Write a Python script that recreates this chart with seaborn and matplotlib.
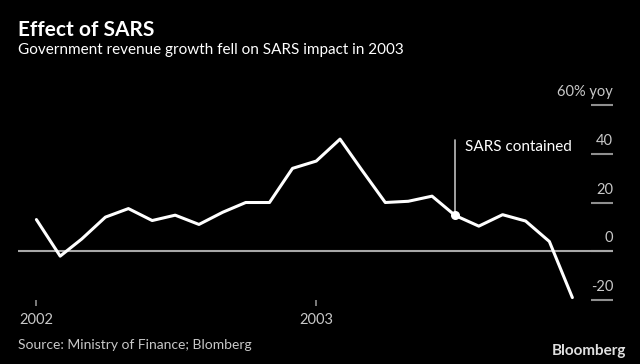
import pandas as pd
import matplotlib
matplotlib.use('Agg')
import matplotlib.pyplot as plt
import matplotlib.transforms as mtransforms
import seaborn as sns

# Monthly government revenue growth, % yoy
months = pd.date_range('2002-01-01', periods=24, freq='MS')
revenue_growth = [13, -2, 5, 14, 17.5, 12.6, 14.8, 11, 16, 20, 20, 34,
                  37, 46, 33.5, 20, 20.5, 22.6, 14.7, 10.3, 15, 12.4, 4, -19]

y_ticks = [-20, 0, 20, 40, 60]
y_tick_labels = ['-20', '0', '20', '40', '60% yoy']
x_ticks = [pd.Timestamp('2002-01-01'), pd.Timestamp('2003-01-01')]
x_tick_labels = ['2002', '2003']
event_date = pd.Timestamp('2003-07-01')
event_label = 'SARS contained'

sns.set_style('dark')
plt.rcParams['font.family'] = ['Lato', 'DejaVu Sans']

bg = 'black'
grey_text = '#c8c8c8'
grey_line = '#8f8f8f'

fig = plt.figure(figsize=(6.4, 3.64), dpi=100, facecolor=bg)
ax = fig.add_axes([18 / 640, 1 - 300 / 364, 595 / 640, 195 / 364])
ax.set_facecolor(bg)

df = pd.DataFrame({'month': months, 'growth': revenue_growth})
ax.axhline(0, color='#a8a8a8', lw=1.5, zorder=1)
sns.lineplot(data=df, x='month', y='growth', color='white', lw=2.2,
             ax=ax, zorder=3, solid_joinstyle='round', solid_capstyle='round')

# SARS contained marker
event_val = df.loc[df['month'] == event_date, 'growth'].iloc[0]
ax.plot([event_date, event_date], [event_val, 45.5], color='#bdbdbd', lw=1.2, zorder=2)
ax.scatter([event_date], [event_val], s=30, color='white', zorder=4)
ax.annotate(event_label, xy=(event_date, 45.5), xytext=(7, 0),
            textcoords='offset points', ha='left', va='top',
            color='white', fontsize=11)

ax.set_xlim(pd.Timestamp('2001-12-08'), pd.Timestamp('2004-01-23'))
ax.set_ylim(-20, 60)

# x axis
ax.set_xticks(x_ticks)
ax.set_xticklabels(x_tick_labels)
ax.tick_params(axis='x', direction='out', length=4, width=1.2, color=grey_line,
               labelcolor=grey_text, labelsize=10.5, pad=5, bottom=True)

# y axis: short lines on the right with labels sitting above them
ax.set_yticks(y_ticks)
ax.tick_params(axis='y', direction='in', length=16, width=1.5, color=grey_line,
               left=False, right=True, labelleft=False, labelright=False)
label_tr = mtransforms.offset_copy(ax.get_yaxis_transform(), fig=fig, x=0, y=13, units='dots')
for v, lab in zip(y_ticks, y_tick_labels):
    ax.text(1.0, v, lab, transform=label_tr, ha='right', va='center',
            color=grey_text, fontsize=10.5)

ax.set_xlabel('')
ax.set_ylabel('')
ax.grid(False)
for s in ax.spines.values():
    s.set_visible(False)

fig.text(18 / 640, 1 - 30.5 / 364, 'Effect of SARS', color='white',
         fontsize=15, fontweight='bold', va='center', ha='left')
fig.text(18 / 640, 1 - 50 / 364, 'Government revenue growth fell on SARS impact in 2003',
         color='white', fontsize=11, va='center', ha='left')
fig.text(18 / 640, 1 - 345 / 364, 'Source: Ministry of Finance; Blomberg',
         color=grey_text, fontsize=10, va='center', ha='left')
fig.text(626 / 640, 1 - 351 / 364, 'Bloomberg', color='#e0e0e0',
         fontsize=11, fontweight='bold', va='center', ha='right')

fig.savefig('out.png', dpi=100, facecolor=bg)
